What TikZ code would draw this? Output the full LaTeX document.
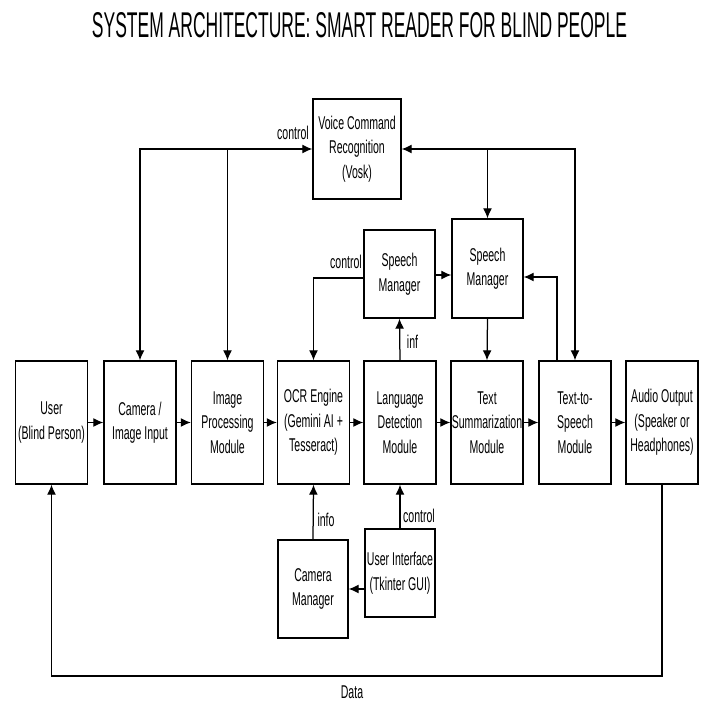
\documentclass[tikz,border=0pt]{standalone}
\usepackage{fontspec}
\setmainfont{Liberation Sans}[FakeStretch=0.57]
\usetikzlibrary{arrows.meta}
\begin{document}
\begin{tikzpicture}[x=1pt,y=-1pt,
  box/.style={draw,line width=1.4pt,align=center,inner sep=0pt,font=\fontsize{18.5}{24.5}\selectfont},
  mainbox/.style={box,minimum width=72pt,minimum height=123pt},
  conn/.style={line width=1.25pt,-{Latex[length=10pt,width=9pt]}},
  both/.style={line width=1.25pt,{Latex[length=10pt,width=9pt]}-{Latex[length=10pt,width=9pt]}},
  lbl/.style={font=\fontsize{18.5}{20}\selectfont,inner sep=0pt}]
\useasboundingbox (0,0) rectangle (705,706);
\fill[white] (0,0) rectangle (705,706);

\node[anchor=base,inner sep=0pt] (title) at (359.5,38) {\resizebox{535pt}{25pt}{SYSTEM ARCHITECTURE: SMART READER FOR BLIND PEOPLE}};

% main row
\node[mainbox] (user) at (51.5,422.5) {User\\(Blind Person)};
\node[mainbox] (cam)  at (140,422.5) {Camera /\\Image Input};
\node[mainbox] (img)  at (227.5,422.5) {Image\\Processing\\Module};
\node[mainbox] (ocr)  at (313.5,422.5) {OCR Engine\\(Gemini AI +\\Tesseract)};
\node[mainbox] (lang) at (400,422.5) {Language\\Detection\\Module};
\node[mainbox] (txt)  at (487,422.5) {Text\\Summarization\\Module};
\node[mainbox] (tts)  at (575,422.5) {Text-to-\\Speech\\Module};
\node[mainbox] (aud)  at (662,422.5) {Audio Output\\(Speaker or\\Headphones)};

% upper boxes
\node[box,minimum width=88pt,minimum height=100pt] (vc) at (357,149) {Voice Command\\Recognition\\(Vosk)};
\node[box,minimum width=71pt,minimum height=88pt] (sm1) at (399.5,274) {Speech\\Manager};
\node[box,minimum width=71pt,minimum height=99pt] (sm2) at (487.5,268.5) {Speech\\Manager};

% lower boxes
\node[box,minimum width=70pt,minimum height=98pt] (cm) at (313,589) {Camera\\Manager};
\node[box,minimum width=70pt,minimum height=88pt] (ui) at (400,573) {User Interface\\(Tkinter GUI)};

% main flow
\draw[conn] (user) -- (cam);
\draw[conn] (cam) -- (img);
\draw[conn] (img) -- (ocr);
\draw[conn] (ocr) -- (lang);
\draw[conn] (lang) -- (txt);
\draw[conn] (txt) -- (tts);
\draw[conn] (tts) -- (aud);

% voice command links
\draw[both] (vc.west) -| (cam.north);
\coordinate (vcl) at (vc.west -| img.north);
\draw[conn] (vcl) -- (img.north);
\draw[both] (vc.east) -| (tts.north);
\coordinate (vcr) at (vc.east -| sm2.north);
\draw[conn] (vcr) -- (sm2.north);

% speech managers
\draw[conn] (sm1.east |- 0,275) -- (sm2.west |- 0,275);
\draw[conn] (sm2.south) -- (txt.north);
\coordinate (ttsl) at ([xshift=-18pt]tts.north);
\draw[conn] (ttsl) |- (sm2.east |- 0,277);
\draw[conn] (sm1.west |- 0,278) -| (ocr.north);
\draw[conn] (lang.north) -- (sm1.south);

% lower links
\draw[conn] (cm.north) -- (ocr.south);
\draw[conn] (ui.north) -- (lang.south);
\draw[conn] (ui.west |- cm.east) -- (cm.east);

% data loop
\coordinate (dl) at (352,676);
\draw[conn] (aud.south) |- (dl) -| (user.south);

% labels
\node[lbl,anchor=east] (l1) at (309,133) {control};
\node[lbl] (l2) at (346,262) {control};
\node[lbl] (l3) at (412.5,342) {inf};
\node[lbl] (l4) at (326,520) {info};
\node[lbl] (l5) at (419,516) {control};
\node[lbl] (l6) at (352,692) {Data};
\end{tikzpicture}
\end{document}
